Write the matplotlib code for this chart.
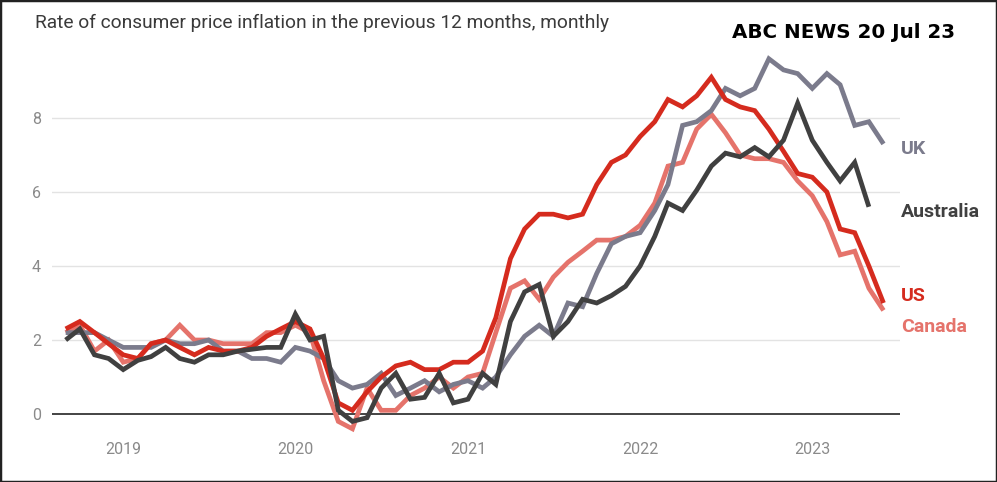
import matplotlib
matplotlib.use("Agg")
import matplotlib.pyplot as plt
import matplotlib.dates as mdates
import matplotlib.transforms as mtransforms
from matplotlib.patches import Rectangle
import pandas as pd

OUTPUT_FILE = "out.png"

# monthly year-on-year CPI, Sep 2018 onwards
months = pd.date_range("2018-09-01", "2023-06-01", freq="MS")

uk = [2.2, 2.2, 2.2, 2.0,
      1.8, 1.8, 1.8, 2.0, 1.9, 1.9, 2.0, 1.7, 1.7, 1.5, 1.5, 1.4,
      1.8, 1.7, 1.5, 0.9, 0.7, 0.8, 1.1, 0.5, 0.7, 0.9, 0.6, 0.8,
      0.9, 0.7, 1.0, 1.6, 2.1, 2.4, 2.1, 3.0, 2.9, 3.8, 4.6, 4.8,
      4.9, 5.5, 6.2, 7.8, 7.9, 8.2, 8.8, 8.6, 8.8, 9.6, 9.3, 9.2,
      8.8, 9.2, 8.9, 7.8, 7.9, 7.3]

australia = [2.0, 2.3, 1.6, 1.5,
             1.2, 1.45, 1.55, 1.8, 1.5, 1.4, 1.6, 1.6, 1.7, 1.75, 1.8, 1.8,
             2.7, 2.0, 2.1, 0.1, -0.2, -0.1, 0.7, 1.1, 0.4, 0.45, 1.1, 0.3,
             0.4, 1.1, 0.8, 2.5, 3.3, 3.5, 2.1, 2.5, 3.1, 3.0, 3.2, 3.45,
             4.0, 4.8, 5.7, 5.5, 6.05, 6.7, 7.05, 6.95, 7.2, 6.95, 7.4, 8.4,
             7.4, 6.8, 6.3, 6.8, 5.6]

us = [2.3, 2.5, 2.2, 1.9,
      1.6, 1.5, 1.9, 2.0, 1.8, 1.6, 1.8, 1.7, 1.7, 1.8, 2.1, 2.3,
      2.5, 2.3, 1.5, 0.3, 0.1, 0.6, 1.0, 1.3, 1.4, 1.2, 1.2, 1.4,
      1.4, 1.7, 2.6, 4.2, 5.0, 5.4, 5.4, 5.3, 5.4, 6.2, 6.8, 7.0,
      7.5, 7.9, 8.5, 8.3, 8.6, 9.1, 8.5, 8.3, 8.2, 7.7, 7.1, 6.5,
      6.4, 6.0, 5.0, 4.9, 4.0, 3.0]

canada = [2.2, 2.4, 1.7, 2.0,
          1.4, 1.5, 1.9, 2.0, 2.4, 2.0, 2.0, 1.9, 1.9, 1.9, 2.2, 2.2,
          2.4, 2.2, 0.9, -0.2, -0.4, 0.7, 0.1, 0.1, 0.5, 0.7, 1.0, 0.7,
          1.0, 1.1, 2.2, 3.4, 3.6, 3.1, 3.7, 4.1, 4.4, 4.7, 4.7, 4.8,
          5.1, 5.7, 6.7, 6.8, 7.7, 8.1, 7.6, 7.0, 6.9, 6.9, 6.8, 6.3,
          5.9, 5.2, 4.3, 4.4, 3.4, 2.8]

series = [
    ("Canada", canada, "#e5736b", 2.35),
    ("UK", uk, "#7b7b8c", 7.15),
    ("US", us, "#d52b1e", 3.2),
    ("Australia", australia, "#404040", 5.45),
]

fig = plt.figure(figsize=(9.97, 4.82), dpi=100)
ax = fig.add_axes([52 / 997, 0.095, 848 / 997, 0.8214])

for name, vals, color, label_y in series:
    ax.plot(months[:len(vals)], vals, color=color, lw=3.4,
            solid_joinstyle="miter", solid_capstyle="butt")

ax.set_ylim(-0.6, 10.1)
ax.set_xlim(pd.Timestamp("2018-08-03"), pd.Timestamp("2023-07-06"))

ax.set_yticks([0, 2, 4, 6, 8])
for v in [2, 4, 6, 8]:
    ax.axhline(v, color="#e3e3e3", lw=1, zorder=0)
ax.axhline(0, color="#111111", lw=1.1, zorder=0.5)

ax.xaxis.set_major_locator(mdates.YearLocator())
ax.xaxis.set_major_formatter(mdates.DateFormatter("%Y"))
ax.tick_params(axis="both", length=0, labelsize=11.5, labelcolor="#8a8a8a")
ax.tick_params(axis="y", pad=8)
ax.tick_params(axis="x", pad=4)
for lab in ax.get_xticklabels() + ax.get_yticklabels():
    lab.set_family("Roboto")

for s in ax.spines.values():
    s.set_visible(False)

# direct labels on the right
trans = mtransforms.blended_transform_factory(ax.transAxes, ax.transData)
for name, vals, color, label_y in series:
    ax.text(1.001, label_y, name, transform=trans, color=color,
            fontsize=14, fontweight="bold", family="Roboto",
            ha="left", va="center", clip_on=False)

fig.text(35 / 997, 1 - 23 / 482,
         "Rate of consumer price inflation in the previous 12 months, monthly",
         family="Roboto", fontsize=13.8, color="#3a3a3a",
         ha="left", va="center")
fig.text(955 / 997, 1 - 32 / 482, "ABC NEWS 20 Jul 23",
         family="DejaVu Sans", fontweight="bold",
         fontsize=14.3, color="black", ha="right", va="center")

fig.patches.append(Rectangle((0, 0), 1, 1, transform=fig.transFigure,
                             fill=False, edgecolor="#222222", lw=2.5))

plt.savefig(OUTPUT_FILE, dpi=100)
print(f"Saved graph to {OUTPUT_FILE}")
